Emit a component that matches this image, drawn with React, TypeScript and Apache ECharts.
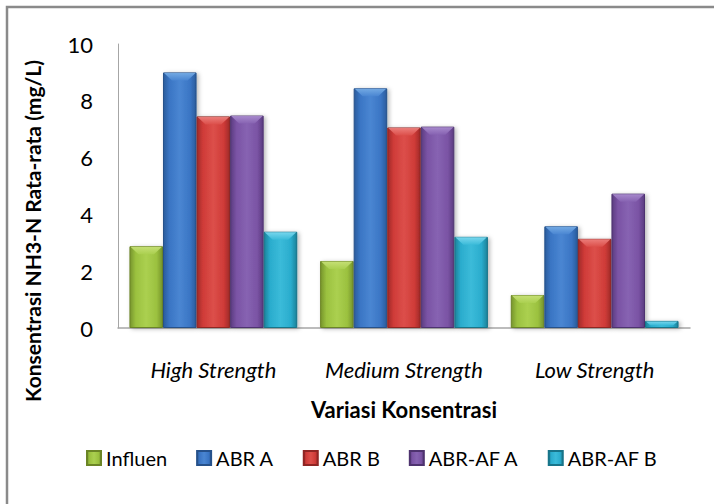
import React, { useEffect, useRef } from "react";
import * as echarts from "echarts";

// Category labels and averaged NH3-N concentrations (mg/L) per reactor
const categories = ["High Strength", "Medium Strength", "Low Strength"];
const seriesNames = ["Influen", "ABR A", "ABR B", "ABR-AF A", "ABR-AF B"];
const influen = [2.88, 2.36, 1.16];
const abrA = [9.0, 8.44, 3.58];
const abrB = [7.45, 7.06, 3.14];
const abrAfA = [7.48, 7.09, 4.73];
const abrAfB = [3.39, 3.21, 0.25];
const yMin = 0;
const yMax = 10;
const yStep = 2;

const FONT = "Lato, 'Open Sans', sans-serif";

// dark edge, body, highlight, bevel top
const palettes = [
  { dark: "#77952c", mid: "#9bc13f", light: "#abd050", top: "#c9e27a", border: "#6b8526" },
  { dark: "#2a5c9c", mid: "#3a75c4", light: "#4a86d2", top: "#78aee6", border: "#26518a" },
  { dark: "#a02a28", mid: "#cf3b38", light: "#dc4f4a", top: "#ee8380", border: "#8f2523" },
  { dark: "#5b3c80", mid: "#7a53a4", light: "#8763b2", top: "#ab8ed0", border: "#4e336f" },
  { dark: "#1c8299", mid: "#2aaccd", light: "#3bbbd9", top: "#7fdaf0", border: "#187489" },
];

const seriesValues = [influen, abrA, abrB, abrAfA, abrAfB];
const CATEGORY_GAP = 0.12;

function barFill(p: (typeof palettes)[number]) {
  return new echarts.graphic.LinearGradient(0, 0, 1, 0, [
    { offset: 0, color: p.dark },
    { offset: 0.18, color: p.mid },
    { offset: 0.5, color: p.light },
    { offset: 0.82, color: p.mid },
    { offset: 1, color: p.dark },
  ]);
}

export default function App() {
  const ref = useRef<HTMLDivElement>(null);

  useEffect(() => {
    if (!ref.current) return;
    const chart = echarts.init(ref.current, null, { renderer: "svg" });

    const barSeries = seriesNames.map((name, i) => ({
      name,
      type: "bar" as const,
      data: seriesValues[i],
      barGap: "0%",
      barCategoryGap: `${CATEGORY_GAP * 100}%`,
      itemStyle: {
        color: barFill(palettes[i]),
        borderColor: palettes[i].border,
        borderWidth: 1,
        shadowBlur: 4,
        shadowOffsetX: 2,
        shadowOffsetY: 1,
        shadowColor: "rgba(0,0,0,0.28)",
      },
    }));

    // bevelled top faces laid over each bar
    const bevelData: number[][] = [];
    seriesValues.forEach((vals, s) =>
      vals.forEach((v, c) => bevelData.push([c, v, s]))
    );

    const bevelSeries = {
      type: "custom" as const,
      silent: true,
      z: 3,
      data: bevelData,
      encode: { x: 0, y: 1 },
      renderItem: (_params: any, api: any) => {
        const c = api.value(0);
        const v = api.value(1);
        const s = api.value(2);
        const top = api.coord([c, v]);
        const base = api.coord([c, 0]);
        const band = api.size([1, 0])[0];
        const groupW = band * (1 - CATEGORY_GAP);
        const barW = groupW / seriesNames.length;
        const x0 = top[0] - groupW / 2 + s * barW;
        const h = Math.min(8, Math.max(0, base[1] - top[1]) * 0.6);
        const bev = Math.min(h, barW * 0.25);
        const p = palettes[s];
        return {
          type: "polygon",
          shape: {
            points: [
              [x0 + 1, top[1] + 0.5],
              [x0 + barW - 1, top[1] + 0.5],
              [x0 + barW - bev - 1, top[1] + h],
              [x0 + bev + 1, top[1] + h],
            ],
          },
          style: {
            fill: new echarts.graphic.LinearGradient(0, 0, 0, 1, [
              { offset: 0, color: p.top },
              { offset: 1, color: p.light },
            ]),
            opacity: 0.9,
          },
        };
      },
    };

    chart.setOption({
      animation: false,
      backgroundColor: "#ffffff",
      textStyle: { fontFamily: FONT },
      grid: { left: 118, right: 24, top: 44, bottom: 176 },
      legend: {
        data: seriesNames,
        left: 81,
        top: 443,
        width: 640,
        icon: "rect",
        itemWidth: 14,
        itemHeight: 14,
        itemGap: 29,
        textStyle: { fontFamily: FONT, fontSize: 20, color: "#000" },
      },
      xAxis: {
        type: "category",
        data: categories,
        axisLine: { lineStyle: { color: "#a6a6a6", width: 1.5 } },
        axisTick: { show: false },
        axisLabel: {
          interval: 0,
          fontFamily: FONT,
          fontSize: 22,
          fontStyle: "italic",
          color: "#000",
          margin: 30,
        },
        name: "Variasi Konsentrasi",
        nameLocation: "middle",
        nameGap: 70,
        nameTextStyle: {
          fontFamily: FONT,
          fontSize: 22,
          fontWeight: "bold",
          color: "#000",
        },
      },
      yAxis: {
        type: "value",
        min: yMin,
        max: yMax,
        interval: yStep,
        splitLine: { show: false },
        axisLine: { show: true, lineStyle: { color: "#a6a6a6", width: 1 } },
        axisTick: { show: false },
        axisLabel: { fontFamily: FONT, fontSize: 22, color: "#000", margin: 25 },
      },
      graphic: [
        {
          type: "rect",
          silent: true,
          shape: { x: 7, y: 7, width: 740, height: 540 },
          style: { fill: "none", stroke: "#8a8a8a", lineWidth: 2.5 },
        },
        {
          type: "text",
          x: 32,
          y: 231,
          rotation: Math.PI / 2,
          style: {
            text: "Konsentrasi NH3-N Rata-rata (mg/L)",
            font: `bold 21px ${FONT}`,
            fill: "#000",
            align: "center",
            verticalAlign: "middle",
          },
        },
      ],
      series: [...barSeries, bevelSeries],
    });

    return () => chart.dispose();
  }, []);

  return (
    <div
      ref={ref}
      style={{ position: "fixed", left: 0, top: 0, width: 714, height: 504 }}
    />
  );
}
